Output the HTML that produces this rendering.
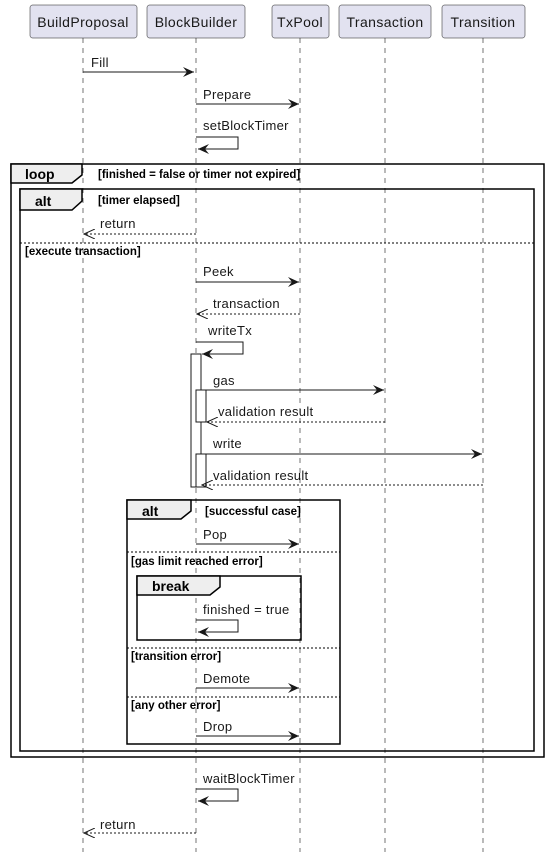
<!DOCTYPE html>
<html><head><style>body{margin:0;background:#fff}svg{display:block}</style></head><body>
<svg width="549" height="858" xmlns="http://www.w3.org/2000/svg" font-family="'Liberation Sans', 'DejaVu Sans', sans-serif">
<defs>
<marker id="a" markerWidth="12" markerHeight="10" refX="11" refY="5" orient="auto" markerUnits="userSpaceOnUse"><path d="M0,0 L11,5 L0,10 L4,5 Z" fill="#181818"/></marker>
<marker id="o" markerWidth="12" markerHeight="10" refX="11" refY="5" orient="auto" markerUnits="userSpaceOnUse"><path d="M0,0 L11,5 L0,10" fill="none" stroke="#181818"/></marker>
</defs>
<g stroke="#181818" stroke-dasharray="5,5" stroke-width="0.6">
<line x1="83" y1="38" x2="83" y2="852"/><line x1="196" y1="38" x2="196" y2="852"/><line x1="300" y1="38" x2="300" y2="852"/><line x1="385" y1="38" x2="385" y2="852"/><line x1="483" y1="38" x2="483" y2="852"/>
</g>
<g fill="#E2E2F0" stroke="#181818" stroke-width="0.5">
<rect x="30" y="5" width="107" height="33" rx="2.5"/><rect x="147" y="5" width="98" height="33" rx="2.5"/><rect x="272" y="5" width="57" height="33" rx="2.5"/><rect x="339" y="5" width="92" height="33" rx="2.5"/><rect x="442" y="5" width="83" height="33" rx="2.5"/>
</g>
<g font-size="14" fill="#181818" text-anchor="middle" letter-spacing="0.4">
<text x="83" y="27">BuildProposal</text><text x="196" y="27">BlockBuilder</text><text x="300" y="27">TxPool</text><text x="385" y="27">Transaction</text><text x="483" y="27">Transition</text>
</g>
<g fill="none" stroke="#000" stroke-width="1.5">
<rect x="11" y="164" width="533" height="593"/>
<rect x="20" y="189" width="514" height="562"/>
<rect x="127" y="500" width="213" height="244"/>
<rect x="137" y="576" width="164" height="64"/>
</g>
<g fill="#EEEEEE" stroke="#000" stroke-width="1.5">
<path d="M11,164 H82 V175 L72,183 H11 Z"/>
<path d="M20,189 H82 V201 L72,210 H20 Z"/>
<path d="M127,500 H191 V511 L181,519 H127 Z"/>
<path d="M137,576 H220 V587 L210,595 H137 Z"/>
</g>
<g stroke="#000" stroke-width="1" stroke-dasharray="2,2">
<line x1="20" y1="243" x2="534" y2="243"/>
<line x1="127" y1="552" x2="340" y2="552"/>
<line x1="127" y1="648" x2="340" y2="648"/>
<line x1="127" y1="697" x2="340" y2="697"/>
</g>
<g font-weight="bold" font-size="14" fill="#000">
<text x="25" y="179">loop</text><text x="35" y="206">alt</text><text x="142" y="516">alt</text><text x="152" y="591">break</text>
</g>
<g font-weight="bold" font-size="11.5" fill="#000">
<text x="98" y="178">[finished = false or timer not expired]</text>
<text x="98" y="204">[timer elapsed]</text>
<text x="25" y="255">[execute transaction]</text>
<text x="205" y="515">[successful case]</text>
<text x="131" y="565">[gas limit reached error]</text>
<text x="131" y="660">[transition error]</text>
<text x="131" y="709">[any other error]</text>
</g>
<g fill="#fff" stroke="#181818" stroke-width="1">
<rect x="191" y="354" width="10" height="133"/>
<rect x="196" y="390" width="10" height="32"/>
<rect x="196" y="454" width="10" height="33"/>
</g>
<g stroke="#181818" stroke-width="1" fill="none">
<line x1="83" y1="72" x2="194" y2="72" marker-end="url(#a)"/>
<line x1="196" y1="104" x2="299" y2="104" marker-end="url(#a)"/>
<path d="M196,137 H238 V149 H198" marker-end="url(#a)"/>
<line x1="196" y1="234" x2="84" y2="234" stroke-dasharray="2,2" marker-end="url(#o)"/>
<line x1="196" y1="282" x2="299" y2="282" marker-end="url(#a)"/>
<line x1="300" y1="314" x2="197" y2="314" stroke-dasharray="2,2" marker-end="url(#o)"/>
<path d="M196,342 H243 V354 H202" marker-end="url(#a)"/>
<line x1="201" y1="390" x2="384" y2="390" marker-end="url(#a)"/>
<line x1="385" y1="422" x2="207" y2="422" stroke-dasharray="2,2" marker-end="url(#o)"/>
<line x1="201" y1="454" x2="482" y2="454" marker-end="url(#a)"/>
<line x1="483" y1="485" x2="202" y2="485" stroke-dasharray="2,2" marker-end="url(#o)"/>
<line x1="196" y1="544" x2="299" y2="544" marker-end="url(#a)"/>
<path d="M196,620 H238 V632 H198" marker-end="url(#a)"/>
<line x1="196" y1="688" x2="299" y2="688" marker-end="url(#a)"/>
<line x1="196" y1="736" x2="299" y2="736" marker-end="url(#a)"/>
<path d="M196,789 H238 V801 H198" marker-end="url(#a)"/>
<line x1="196" y1="833" x2="84" y2="833" stroke-dasharray="2,2" marker-end="url(#o)"/>
</g>
<g font-size="13" fill="#181818" letter-spacing="0.3">
<text x="91" y="67">Fill</text>
<text x="203" y="99">Prepare</text>
<text x="203" y="130">setBlockTimer</text>
<text x="100" y="228">return</text>
<text x="203" y="276">Peek</text>
<text x="213" y="308">transaction</text>
<text x="208" y="335">writeTx</text>
<text x="213" y="385">gas</text>
<text x="218" y="416">validation result</text>
<text x="213" y="448">write</text>
<text x="213" y="480">validation result</text>
<text x="203" y="539">Pop</text>
<text x="203" y="614">finished = true</text>
<text x="203" y="683">Demote</text>
<text x="203" y="731">Drop</text>
<text x="203" y="783">waitBlockTimer</text>
<text x="100" y="829">return</text>
</g>
</svg>
</body></html>
